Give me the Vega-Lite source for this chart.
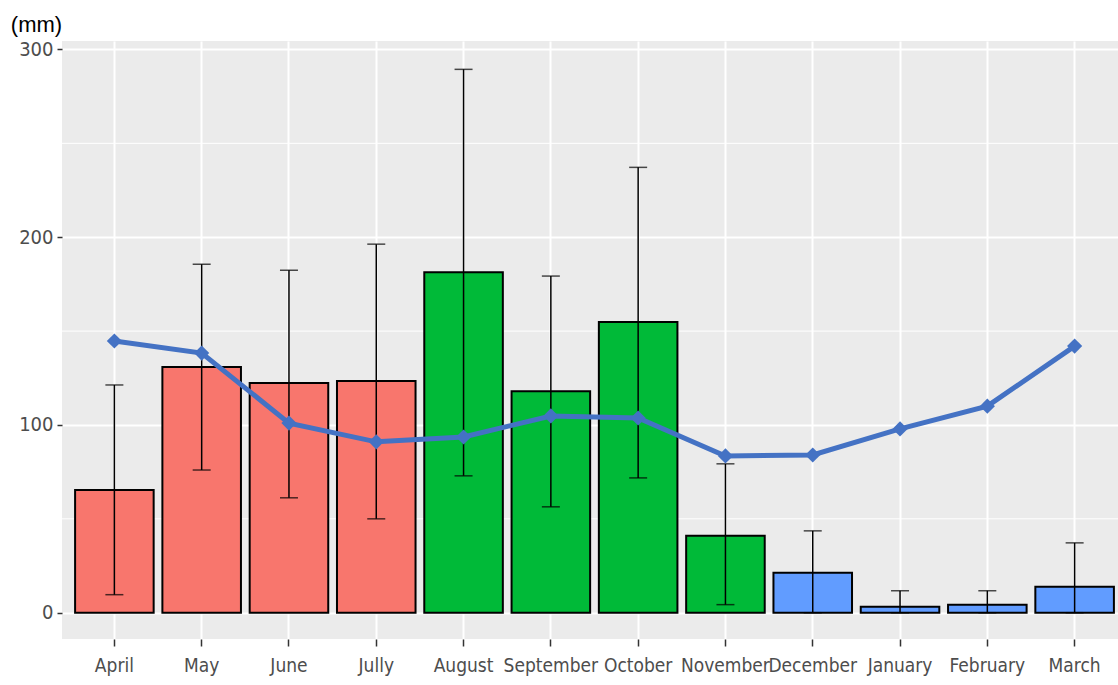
{
  "$schema": "https://vega.github.io/schema/vega-lite/v6.json",
  "width": 1065,
  "height": 598,
  "autosize": {"type": "none"},
  "padding": {"left": 62, "top": 41, "right": 0, "bottom": 46},
  "background": "white",
  "view": {"fill": "#EBEBEB", "stroke": null},
  "config": {
    "font": "'DejaVu Sans Condensed', 'Liberation Sans', sans-serif",
    "axis": {"labelFont": "'DejaVu Sans Condensed', 'Liberation Sans', sans-serif", "titleFont": "'Liberation Sans', sans-serif"}
  },
  "datasets": {
    "main": [
      {"month": "April", "group": "G1", "mean": 65.4, "upper": 121.3, "lower": 9.6, "line": 144.7},
      {"month": "May", "group": "G1", "mean": 130.9, "upper": 185.6, "lower": 76.0, "line": 138.3},
      {"month": "June", "group": "G1", "mean": 122.3, "upper": 182.4, "lower": 61.2, "line": 101.0},
      {"month": "Jully", "group": "G1", "mean": 123.4, "upper": 196.3, "lower": 50.0, "line": 91.0},
      {"month": "August", "group": "G2", "mean": 181.4, "upper": 289.4, "lower": 72.9, "line": 93.6},
      {"month": "September", "group": "G2", "mean": 118.0, "upper": 179.3, "lower": 56.4, "line": 104.8},
      {"month": "October", "group": "G2", "mean": 154.8, "upper": 237.2, "lower": 71.8, "line": 103.7},
      {"month": "November", "group": "G2", "mean": 41.0, "upper": 79.3, "lower": 4.3, "line": 83.5},
      {"month": "December", "group": "G3", "mean": 21.3, "upper": 43.6, "lower": 0, "line": 84.0},
      {"month": "January", "group": "G3", "mean": 3.2, "upper": 11.7, "lower": 0, "line": 97.9},
      {"month": "February", "group": "G3", "mean": 4.3, "upper": 11.7, "lower": 0, "line": 110.0},
      {"month": "March", "group": "G3", "mean": 13.8, "upper": 37.2, "lower": 0, "line": 142.0}
    ],
    "minor": [{"v": 50}, {"v": 150}, {"v": 250}]
  },
  "encoding": {
    "x": {
      "field": "month",
      "type": "nominal",
      "sort": null,
      "scale": {"paddingInner": 0.1, "paddingOuter": 0.15},
      "axis": {
        "title": null,
        "labelAngle": 0,
        "labelFontSize": 19,
        "labelColor": "#4D4D4D",
        "labelPadding": 10,
        "tickColor": "#333333",
        "tickSize": 7,
        "tickWidth": 1.5,
        "bandPosition": 0.5,
        "domain": false,
        "grid": true,
        "gridColor": "white",
        "gridWidth": 2
      }
    }
  },
  "layer": [
    {
      "data": {"name": "minor"},
      "mark": {"type": "rule", "color": "white", "strokeWidth": 1},
      "encoding": {
        "x": null,
        "y": {"field": "v", "type": "quantitative", "scale": {"domain": [-14, 304.5], "nice": false, "zero": false}}
      }
    },
    {
      "data": {"name": "main"},
      "mark": {"type": "bar", "stroke": "black", "strokeWidth": 2},
      "encoding": {
        "y": {
          "field": "mean",
          "type": "quantitative",
          "scale": {"domain": [-14, 304.5], "nice": false, "zero": false},
          "axis": {
            "values": [0, 100, 200, 300],
            "title": "(mm)",
            "titleAngle": 0,
            "titleAlign": "center",
            "titleBaseline": "alphabetic",
            "titleX": -26,
            "titleY": -10,
            "titleFontSize": 22,
            "titleFontWeight": "normal",
            "titleColor": "black",
            "labelFontSize": 20,
            "labelColor": "#4D4D4D",
            "labelPadding": 4,
            "tickColor": "#333333",
            "tickSize": 5,
            "tickWidth": 1.5,
            "domain": false,
            "grid": true,
            "gridColor": "white",
            "gridWidth": 2
          }
        },
        "y2": {"datum": 0},
        "color": {
          "field": "group",
          "type": "nominal",
          "scale": {"domain": ["G1", "G2", "G3"], "range": ["#F8766D", "#00BA38", "#619CFF"]},
          "legend": null
        }
      }
    },
    {
      "data": {"name": "main"},
      "mark": {"type": "rule", "color": "black", "strokeWidth": 1.5},
      "encoding": {
        "y": {"field": "lower", "type": "quantitative"},
        "y2": {"field": "upper"}
      }
    },
    {
      "data": {"name": "main"},
      "mark": {"type": "tick", "color": "black", "thickness": 1.5, "size": 18, "orient": "horizontal"},
      "encoding": {
        "y": {"field": "upper", "type": "quantitative"}
      }
    },
    {
      "data": {"name": "main"},
      "mark": {"type": "tick", "color": "black", "thickness": 1.5, "size": 18, "orient": "horizontal"},
      "encoding": {
        "y": {"field": "lower", "type": "quantitative"}
      }
    },
    {
      "data": {"name": "main"},
      "mark": {"type": "line", "color": "#4472C4", "strokeWidth": 5, "point": {"shape": "diamond", "size": 230, "filled": true, "color": "#4472C4", "opacity": 1}},
      "encoding": {
        "y": {"field": "line", "type": "quantitative"}
      }
    }
  ]
}
